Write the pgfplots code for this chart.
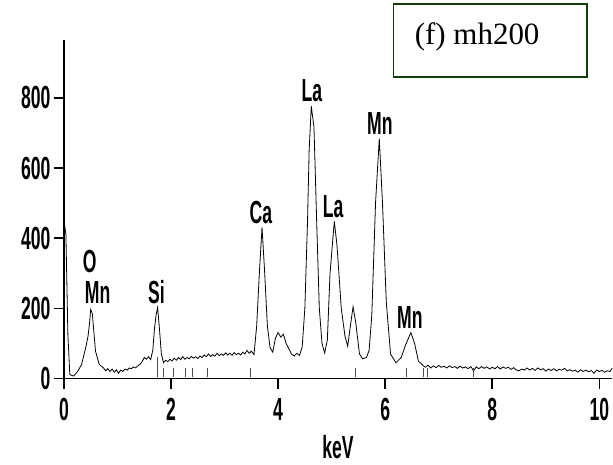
\documentclass[border=0pt]{standalone}
\usepackage{pgfplots}
\pgfplotsset{compat=1.18}
\usepackage{fontspec}
\setmainfont{Liberation Serif}
\newfontfamily\condfont{Liberation Sans}[FakeStretch=0.55]
\newcommand\lf{\condfont\bfseries\fontsize{32}{32}\selectfont}
\definecolor{boxgreen}{RGB}{20,60,10}
\begin{document}
\begin{tikzpicture}
\begin{axis}[name=ax,
  scale only axis, width=549pt, height=339pt,
  xmin=0, xmax=10.24, ymin=0, ymax=965,
  axis lines=left, axis line style={-, line width=1.6pt},
  tick align=outside, tick style={line width=1.6pt, black},
  major tick length=10pt,
  xtick={0,2,4,6,8,10}, ytick={0,200,400,600,800},
  /pgf/number format/assume math mode=true,
  ticklabel style={font=\lf},
  xticklabel style={yshift=-6pt},
  xlabel={keV}, xlabel style={font=\lf, yshift=-8pt},
  clip=false,
]
\addplot[black, line width=0.8pt] coordinates {
(0.0,450) (0.037,412) (0.074,126) (0.11,11) (0.18,7) (0.26,21) (0.33,40) (0.41,90) (0.45,120) (0.48,160) (0.50,197) (0.53,185) (0.55,150) (0.59,78) (0.66,40) (0.70,35)
(0.74,30) (0.78,22) (0.82,28) (0.86,20) (0.90,27) (0.94,18) (0.98,25) (1.02,15) (1.06,24) (1.10,20) (1.14,27) (1.18,24) (1.22,30) (1.26,28) (1.30,33) (1.34,30) (1.38,36) (1.42,40) (1.46,48) (1.50,60) (1.54,55) (1.58,62) (1.62,54)
(1.66,80) (1.69,140) (1.72,180) (1.75,202) (1.78,150) (1.82,70)
(1.86,45) (1.90,52) (1.94,48) (1.98,55) (2.02,50) (2.06,58) (2.10,52) (2.14,60) (2.18,54) (2.22,62) (2.26,55) (2.30,60) (2.34,56) (2.38,63) (2.42,58) (2.46,62) (2.50,57) (2.54,64) (2.58,60) (2.62,67) (2.66,62) (2.70,70) (2.74,63) (2.78,68) (2.82,64) (2.86,72) (2.90,65) (2.94,70) (2.98,66) (3.02,73) (3.06,67) (3.10,72) (3.14,66) (3.18,74) (3.22,68) (3.26,72) (3.30,67) (3.34,75) (3.38,70) (3.42,80) (3.46,72) (3.50,78) (3.55,68)
(3.60,150) (3.65,300) (3.70,431) (3.75,300) (3.80,150) (3.85,88) (3.90,75) (3.95,115) (4.00,131) (4.05,118) (4.10,126) (4.15,100) (4.20,85) (4.25,70) (4.30,64) (4.35,72) (4.40,66) (4.45,90)
(4.50,200) (4.55,450) (4.58,650) (4.62,776) (4.67,717) (4.72,450) (4.77,200) (4.82,100) (4.87,73) (4.92,110) (4.97,300) (5.05,448) (5.10,380) (5.18,200) (5.25,120) (5.30,92) (5.35,150) (5.40,204) (5.45,160) (5.52,70) (5.58,56) (5.65,60) (5.70,80) (5.75,180) (5.82,500) (5.89,684) (5.95,500) (6.02,220) (6.10,70) (6.20,45) (6.30,60) (6.38,95) (6.48,131) (6.55,100) (6.62,50) (6.70,38)
(6.75,32) (6.80,38) (6.85,30) (6.90,36) (6.95,31) (7.00,37) (7.05,32) (7.10,35) (7.15,30) (7.20,36) (7.25,31) (7.30,34) (7.35,29) (7.40,35) (7.45,30) (7.50,33) (7.55,28) (7.60,34) (7.65,22) (7.70,33) (7.75,28) (7.80,34) (7.85,29) (7.90,33) (7.95,27) (8.00,32) (8.05,28) (8.10,34) (8.15,27) (8.20,33) (8.25,29) (8.30,32) (8.35,26) (8.40,31) (8.45,24) (8.50,22) (8.55,27) (8.60,24) (8.65,30) (8.70,24) (8.75,29) (8.80,23) (8.85,30) (8.90,25) (8.95,28) (9.00,21) (9.05,27) (9.10,23) (9.15,28) (9.20,22) (9.25,26) (9.30,24) (9.35,29) (9.40,22) (9.45,25) (9.50,21) (9.55,24) (9.60,18) (9.65,25) (9.70,20) (9.75,24) (9.80,19) (9.85,23) (9.90,15) (9.95,24) (10.00,20) (10.05,23) (10.10,18) (10.15,22) (10.20,20) (10.24,30)
};
\addplot[black!70, line width=0.6pt, unbounded coords=jump] coordinates {
(1.75,5) (1.75,60) (1.75,nan)
(1.86,5) (1.86,30) (1.86,nan)
(2.05,5) (2.05,30) (2.05,nan)
(2.26,5) (2.26,30) (2.26,nan)
(2.39,5) (2.39,30) (2.39,nan)
(2.67,5) (2.67,30) (2.67,nan)
(3.49,5) (3.49,30) (3.49,nan)
(5.45,5) (5.45,30) (5.45,nan)
(6.39,5) (6.39,30) (6.39,nan)
(6.71,5) (6.71,30) (6.71,nan)
(6.78,5) (6.78,30) (6.78,nan)
(7.64,5) (7.64,30)
};
\begin{scope}[every node/.style={font=\lf, inner sep=0pt}]
\node at (axis cs:0.48,334) {O};
\node at (axis cs:0.63,245) {Mn};
\node at (axis cs:1.73,245) {Si};
\node at (axis cs:3.68,474) {Ca};
\node at (axis cs:4.63,820) {La};
\node at (axis cs:5.03,490) {La};
\node at (axis cs:5.90,728) {Mn};
\node at (axis cs:6.46,175) {Mn};
\end{scope}
\draw[boxgreen, line width=1.5pt] (axis cs:6.16,860) rectangle (axis cs:9.77,1068);
\node[anchor=base west, font=\fontsize{31}{31}\selectfont, inner sep=0pt] at (axis cs:6.55,951) {(f) mh200};
\end{axis}
\path ([shift={(-64pt,-86pt)}]ax.south west) rectangle ([shift={(0pt,40pt)}]ax.north east);
\end{tikzpicture}
\end{document}
